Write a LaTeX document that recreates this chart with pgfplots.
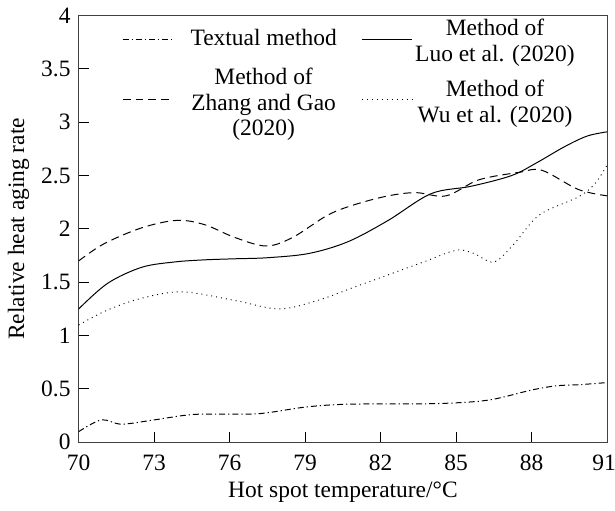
\documentclass[border=0pt]{standalone}
\usepackage{fontspec}
\setmainfont{Liberation Serif}
\usepackage{pgfplots}
\pgfplotsset{compat=1.18}
\newcommand\lgA[2][0bp]{\makebox[90bp]{\raisebox{#1}{\begin{tabular}{@{}c@{}}#2\end{tabular}}}}
\newcommand\lgB[2][0bp]{\makebox[82bp]{\raisebox{#1}{\begin{tabular}{@{}c@{}}#2\end{tabular}}}}
\begin{document}
\fontsize{11.8}{13}\selectfont
\begin{tikzpicture}
\begin{axis}[
  scale only axis,
  width=265bp, height=214bp,
  xmin=70, xmax=91, ymin=0, ymax=4,
  xtick={70,73,76,79,82,85,88,91},
  xticklabels={70,73,76,79,82,85,88,\makebox[0pt]{91\hspace{3bp}}},
  ytick={0,0.5,1,1.5,2,2.5,3,3.5,4},
  tick align=inside,
  xtick pos=bottom, ytick pos=left,
  major tick length=5bp,
  axis line style={black!75, line width=0.6pt},
  tick style={black, line width=0.5pt},
  /pgf/number format/assume math mode=true,
  ticklabel style={font=\fontsize{11.8}{13}\selectfont},
  xticklabel style={yshift=-2bp},
  xlabel={Hot spot temperature/°C},
  ylabel={Relative heat aging rate},
  label style={font=\fontsize{11.8}{13}\selectfont},
  xlabel style={yshift=2bp},
  ylabel style={yshift=-2bp},
  legend columns=2,
  legend style={draw=none, fill=none, at={(0.07,1.007)}, anchor=north west,
    nodes={inner sep=0.5bp},
    /tikz/row sep=2bp,
    /tikz/every even column/.append style={column sep=3.5bp},
    font=\fontsize{11.8}{13}\selectfont},
  legend image code/.code={\draw[#1] (0bp,0bp) -- (25bp,0bp);},
  every axis plot/.append style={black, line width=0.5pt, smooth, tension=0.55},
]
\addplot[dash pattern=on 3bp off 1.5bp on 0.6bp off 1.5bp] coordinates {
(70,0.10) (70.9,0.21) (71.7,0.17) (73,0.21) (74.5,0.26) (76,0.265) (77.25,0.27)
(79,0.33) (80.4,0.355) (82,0.36) (83.5,0.36) (85,0.37) (86.4,0.40) (88,0.49)
(89,0.53) (89.9,0.54) (91,0.56)};
\addlegendentry{\lgA{Textual method}}
\addplot[solid] coordinates {
(70,1.25) (71.15,1.49) (72.5,1.64) (73.8,1.69) (75,1.71) (76.2,1.72) (77.5,1.73)
(79.15,1.77) (80.7,1.88) (82.3,2.08) (84,2.33) (85.6,2.40) (87.2,2.50) (88.2,2.62)
(89.3,2.77) (90.2,2.87) (91,2.91)};
\addlegendentry{\lgB[3.5bp]{Method of\\Luo et al. (2020)}}
\addplot[dash pattern=on 4bp off 2.5bp] coordinates {
(70,1.70) (71,1.86) (72.5,2.01) (73.9,2.08) (75,2.04) (76.2,1.92) (77.45,1.84)
(78.5,1.92) (79.9,2.13) (81,2.23) (82.3,2.31) (83.4,2.34) (84.6,2.31) (85.9,2.46)
(87.5,2.53) (88.4,2.55) (89.85,2.37) (91,2.31)};
\addlegendentry{\lgA[9.5bp]{Method of\\Zhang and Gao\\(2020)}}
\addplot[dotted, line width=0.45pt] coordinates {
(70,1.10) (71.15,1.24) (72.5,1.35) (74.1,1.41) (76.2,1.33) (77.96,1.25) (79.5,1.33)
(80.9,1.45) (82.3,1.57) (83.7,1.69) (85,1.80) (85.7,1.77) (86.5,1.69) (87.3,1.86)
(88.3,2.13) (89.85,2.30) (90.5,2.42) (91,2.60)};
\addlegendentry{\lgB[3.5bp]{Method of\\Wu et al. (2020)}}
\end{axis}
\end{tikzpicture}
\end{document}
